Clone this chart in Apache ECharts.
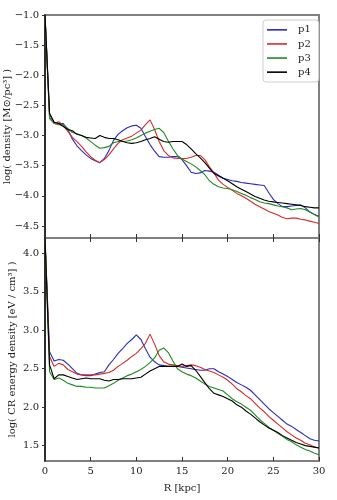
<!DOCTYPE html>
<html>
<head>
<meta charset="utf-8">
<script src="https://cdn.jsdelivr.net/npm/echarts@6/dist/echarts.min.js"></script>
<style>
  html, body { margin: 0; padding: 0; background: #fff; }
  #chart { width: 337px; height: 500px; }
</style>
</head>
<body>
<div id="chart"></div>
<script>
// radius grid, kpc
const radius = [0, 0.5, 1, 1.5, 2, 2.5, 3, 3.5, 4, 4.5, 5, 5.5, 6, 6.5, 7, 7.5, 8, 8.5, 9, 9.5,
  10, 10.5, 11, 11.5, 12, 12.5, 13, 13.5, 14, 14.5, 15, 15.5, 16, 16.5, 17, 17.5, 18, 18.5, 19, 19.5,
  20, 20.5, 21, 21.5, 22, 22.5, 23, 23.5, 24, 24.5, 25, 25.5, 26, 26.5, 27, 27.5, 28, 28.5, 29, 29.5, 30];

// top panel: log density
const densP1 = [-1.0, -2.65, -2.78, -2.8, -2.8, -2.9, -3.06, -3.17, -3.25, -3.32, -3.38, -3.42, -3.45, -3.38, -3.25, -3.08, -2.98, -2.92, -2.87, -2.84,
  -2.83, -2.88, -3.02, -3.15, -3.26, -3.35, -3.36, -3.36, -3.35, -3.35, -3.4, -3.5, -3.61, -3.63, -3.62, -3.58, -3.59, -3.61, -3.66, -3.71,
  -3.73, -3.75, -3.76, -3.78, -3.79, -3.8, -3.81, -3.82, -3.83, -3.95, -4.06, -4.13, -4.18, -4.18, -4.17, -4.16, -4.15, -4.2, -4.27, -4.31, -4.34];
const densP2 = [-1.0, -2.7, -2.8, -2.77, -2.83, -2.93, -3.03, -3.1, -3.18, -3.27, -3.35, -3.41, -3.45, -3.4, -3.32, -3.22, -3.13, -3.07, -3.04, -3.01,
  -2.96, -2.91, -2.82, -2.74, -2.9, -3.1, -3.25, -3.33, -3.37, -3.38, -3.38, -3.38, -3.36, -3.33, -3.33, -3.4, -3.52, -3.62, -3.74, -3.81,
  -3.86, -3.91, -3.96, -4.0, -4.04, -4.09, -4.14, -4.18, -4.22, -4.26, -4.29, -4.32, -4.36, -4.38, -4.37, -4.37, -4.39, -4.4, -4.42, -4.44, -4.46];
const densP3 = [-1.0, -2.72, -2.8, -2.82, -2.82, -2.88, -2.95, -2.97, -3.0, -3.04, -3.1, -3.16, -3.21, -3.2, -3.18, -3.12, -3.1, -3.1, -3.09, -3.07,
  -3.04, -3.0, -2.96, -2.93, -2.9, -2.88, -2.95, -3.09, -3.22, -3.33, -3.39, -3.43, -3.47, -3.52, -3.58, -3.65, -3.75, -3.81, -3.85, -3.87,
  -3.88, -3.9, -3.93, -3.96, -3.99, -4.03, -4.06, -4.1, -4.12, -4.13, -4.15, -4.17, -4.18, -4.2, -4.23, -4.22, -4.21, -4.23, -4.27, -4.31, -4.35];
const densP4 = [-1.0, -2.63, -2.78, -2.8, -2.85, -2.9, -2.92, -2.98, -3.0, -3.03, -3.04, -3.05, -3.0, -3.03, -3.05, -3.05, -3.07, -3.1, -3.12, -3.13,
  -3.12, -3.1, -3.07, -3.05, -3.02, -3.06, -3.1, -3.11, -3.1, -3.1, -3.1, -3.15, -3.22, -3.3, -3.37, -3.45, -3.54, -3.63, -3.67, -3.71,
  -3.75, -3.8, -3.85, -3.89, -3.93, -3.97, -4.01, -4.04, -4.07, -4.09, -4.1, -4.11, -4.12, -4.13, -4.14, -4.15, -4.16, -4.18, -4.19, -4.2, -4.2];

// bottom panel: log CR energy density
const crP1 = [4.2, 2.72, 2.6, 2.62, 2.61, 2.56, 2.5, 2.44, 2.42, 2.41, 2.41, 2.43, 2.45, 2.46, 2.55, 2.62, 2.7, 2.76, 2.83, 2.88,
  2.94, 2.88, 2.76, 2.65, 2.59, 2.55, 2.54, 2.53, 2.53, 2.53, 2.52, 2.51, 2.5, 2.49, 2.48, 2.48, 2.5, 2.5, 2.46, 2.43,
  2.4, 2.36, 2.32, 2.29, 2.26, 2.22, 2.16, 2.1, 2.04, 1.98, 1.93, 1.88, 1.83, 1.78, 1.75, 1.71, 1.67, 1.63, 1.59, 1.57, 1.56];
const crP2 = [4.2, 2.66, 2.53, 2.57, 2.55, 2.49, 2.46, 2.43, 2.42, 2.42, 2.42, 2.42, 2.43, 2.44, 2.45, 2.48, 2.53, 2.57, 2.61, 2.66,
  2.7, 2.76, 2.83, 2.95, 2.82, 2.67, 2.59, 2.56, 2.55, 2.54, 2.53, 2.54, 2.55, 2.54, 2.52, 2.49, 2.47, 2.45, 2.42, 2.39,
  2.35, 2.3, 2.24, 2.2, 2.15, 2.11, 2.05, 1.99, 1.94, 1.88, 1.83, 1.78, 1.73, 1.68, 1.64, 1.6, 1.57, 1.53, 1.51, 1.48, 1.47];
const crP3 = [4.2, 2.46, 2.36, 2.38, 2.35, 2.31, 2.29, 2.27, 2.27, 2.26, 2.26, 2.25, 2.25, 2.25, 2.28, 2.31, 2.35, 2.38, 2.41, 2.43,
  2.46, 2.49, 2.53, 2.58, 2.64, 2.74, 2.77, 2.71, 2.6, 2.5, 2.46, 2.43, 2.41, 2.38, 2.34, 2.3, 2.27, 2.25, 2.23, 2.21,
  2.16, 2.11, 2.07, 2.04, 2.0, 1.96, 1.9, 1.84, 1.79, 1.74, 1.7, 1.66, 1.62, 1.58, 1.55, 1.51, 1.48, 1.45, 1.43, 1.4, 1.38];
const crP4 = [4.2, 2.55, 2.37, 2.42, 2.42, 2.4, 2.38, 2.36, 2.37, 2.38, 2.37, 2.37, 2.37, 2.35, 2.34, 2.36, 2.36, 2.37, 2.37, 2.37,
  2.38, 2.39, 2.43, 2.47, 2.5, 2.53, 2.53, 2.53, 2.53, 2.53, 2.56, 2.53, 2.54, 2.48, 2.4, 2.32, 2.24, 2.18, 2.16, 2.14,
  2.11, 2.08, 2.03, 2.0, 1.95, 1.91, 1.86, 1.81, 1.77, 1.73, 1.7, 1.67, 1.63, 1.6, 1.57, 1.54, 1.52, 1.5, 1.49, 1.48, 1.47];

const seriesNames = ['p1', 'p2', 'p3', 'p4'];
const seriesColors = ['#2b2bb8', '#d42b2b', '#1f8a1f', '#000000'];
const densTicks = [-4.5, -4.0, -3.5, -3.0, -2.5, -2.0, -1.5, -1.0];
const crTicks = [1.5, 2.0, 2.5, 3.0, 3.5, 4.0];

const font = 'DejaVu Serif';
const frame = '#808080';

const pairs = ys => radius.map((r, i) => [r, ys[i]]);
const fmt = v => v.toFixed(1).replace('-', '\u2212');

const chart = echarts.init(document.getElementById('chart'));

const xBase = {
  type: 'value', min: 0, max: 30, interval: 5,
  axisLine: { show: false },
  axisTick: { show: true, inside: true, length: 4, lineStyle: { color: '#333' } },
  splitLine: { show: false },
  axisLabel: { show: false }
};

const yBase = {
  type: 'value',
  axisLine: { show: true, lineStyle: { color: '#111', width: 1.5 } },
  axisTick: { show: true, length: 3, lineStyle: { color: '#333' } },
  splitLine: { show: false },
  nameLocation: 'middle',
  nameMoveOverlap: false,
  nameTextStyle: { fontFamily: font, fontSize: 10, color: '#222' },
  axisLabel: { fontFamily: font, fontSize: 10, color: '#222', margin: 6, formatter: fmt }
};

const series = [];
[densP1, densP2, densP3, densP4].forEach((d, i) => {
  series.push({
    name: seriesNames[i], type: 'line', xAxisIndex: 0, yAxisIndex: 0,
    data: pairs(d), showSymbol: false, symbol: 'none',
    lineStyle: { color: seriesColors[i], width: 1.1 }, itemStyle: { color: seriesColors[i] },
    silent: true
  });
});
[crP1, crP2, crP3, crP4].forEach((d, i) => {
  series.push({
    name: seriesNames[i], type: 'line', xAxisIndex: 1, yAxisIndex: 1,
    data: pairs(d), showSymbol: false, symbol: 'none',
    lineStyle: { color: seriesColors[i], width: 1.1 }, itemStyle: { color: seriesColors[i] },
    silent: true
  });
});

chart.setOption({
  backgroundColor: '#fff',
  animation: false,
  grid: [
    { left: 45, top: 15, width: 274, height: 223, show: true, borderColor: frame, borderWidth: 2, outerBoundsMode: 'none' },
    { left: 45, top: 238, width: 274, height: 223, show: true, borderColor: frame, borderWidth: 2, outerBoundsMode: 'none' }
  ],
  legend: {
    data: seriesNames.map(n => ({ name: n, icon: 'path://M0,0 L20,0 L20,1.6 L0,1.6 Z' })),
    orient: 'vertical',
    left: 263, top: 20,
    itemWidth: 20, itemHeight: 1.6, itemGap: 2.4,
    padding: [4, 8, 4, 4],
    borderColor: '#cccccc', borderWidth: 1, borderRadius: 3,
    backgroundColor: '#fff',
    textStyle: { fontFamily: font, fontSize: 10, color: '#222', lineHeight: 11.7, padding: [0, 0, 0, 6] }
  },
  xAxis: [
    Object.assign({}, xBase, { gridIndex: 0, position: 'bottom' }),
    Object.assign({}, xBase, {
      gridIndex: 1, position: 'bottom',
      name: 'R [kpc]', nameLocation: 'middle', nameGap: 22,
      nameTextStyle: { fontFamily: font, fontSize: 10, color: '#222' },
      axisLabel: { show: true, fontFamily: font, fontSize: 10, color: '#222', margin: 5 }
    }),
    Object.assign({}, xBase, { gridIndex: 1, position: 'top' })
  ],
  yAxis: [
    Object.assign({}, yBase, {
      gridIndex: 0, min: -4.7, max: -1.0, nameGap: 33,
      name: 'log( density [M\u2299/pc\u00b3] )',
      axisLabel: Object.assign({}, yBase.axisLabel, { customValues: densTicks }),
      axisTick: Object.assign({}, yBase.axisTick, { customValues: densTicks })
    }),
    Object.assign({}, yBase, {
      gridIndex: 1, min: 1.3, max: 4.2, nameGap: 28,
      name: 'log( CR energy density [eV / cm\u00b3] )',
      axisLabel: Object.assign({}, yBase.axisLabel, { customValues: crTicks }),
      axisTick: Object.assign({}, yBase.axisTick, { customValues: crTicks })
    })
  ],
  series: series
});
</script>
</body>
</html>
